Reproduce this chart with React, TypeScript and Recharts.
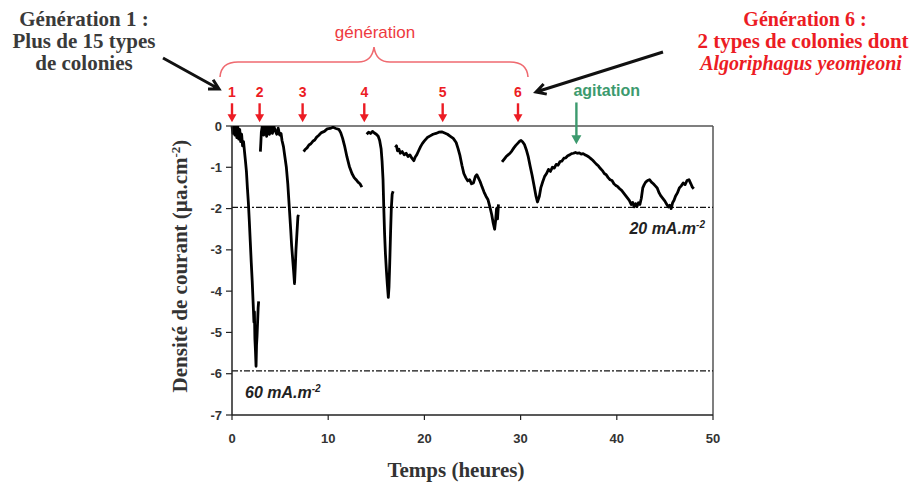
import React from 'react';
import { LineChart, Line, XAxis, YAxis, ReferenceLine } from 'recharts';

// ---- axis ticks ----
const xTicks = [0, 10, 20, 30, 40, 50];
const yTicks = [0, -1, -2, -3, -4, -5, -6, -7];

// ---- current density (µA/cm²) vs time (h), one array per generation ----
const gen1: [number, number][] = [
  [0, 0], [0.1, -0.18], [0.2, 0], [0.3, -0.22], [0.4, -0.02], [0.5, -0.28], [0.6, 0], [0.7, -0.32],
  [0.8, -0.08], [0.9, -0.38], [1.0, -0.2], [1.1, -0.48], [1.2, -0.38], [1.3, -0.62], [1.4, -0.85],
  [1.5, -1.1], [1.6, -1.5], [1.7, -1.85], [1.8, -2.3], [1.9, -2.8], [2.0, -3.3], [2.1, -3.75],
  [2.2, -4.3], [2.28, -4.75], [2.33, -4.5], [2.38, -5.15], [2.44, -5.45], [2.5, -5.82], [2.55, -5.3],
  [2.6, -5.1], [2.66, -4.75], [2.72, -4.4], [2.77, -4.25],
];
const gen2: [number, number][] = [
  [2.95, -0.62], [3.0, -0.4], [3.05, -0.15], [3.15, 0], [3.3, -0.22], [3.45, 0], [3.6, -0.25],
  [3.75, 0], [3.9, -0.2], [4.05, 0], [4.2, -0.18], [4.35, 0], [4.5, -0.12], [4.65, -0.2],
  [4.8, -0.05], [4.95, -0.22], [5.1, -0.18], [5.2, -0.35], [5.35, -0.5], [5.5, -0.75], [5.65, -1.0],
  [5.8, -1.4], [5.95, -1.95], [6.1, -2.5], [6.2, -2.9], [6.3, -3.2], [6.4, -3.5], [6.5, -3.82],
  [6.58, -3.4], [6.65, -3.0], [6.75, -2.6], [6.85, -2.2], [6.9, -2.15],
];
const gen3: [number, number][] = [
  [7.45, -0.62], [7.6, -0.57], [7.8, -0.53], [8.0, -0.46], [8.2, -0.43], [8.4, -0.37], [8.6, -0.34],
  [8.8, -0.27], [9.0, -0.23], [9.3, -0.16], [9.6, -0.13], [9.9, -0.07], [10.2, -0.06], [10.5, -0.03],
  [10.8, -0.06], [11.1, -0.08], [11.3, -0.16], [11.5, -0.3], [11.7, -0.48], [11.95, -0.75],
  [12.2, -0.98], [12.47, -1.15], [12.7, -1.25], [12.9, -1.3], [13.1, -1.36], [13.3, -1.4], [13.5, -1.48],
];
const gen4: [number, number][] = [
  [14.0, -0.2], [14.2, -0.15], [14.4, -0.18], [14.6, -0.13], [14.8, -0.17], [15.0, -0.2], [15.2, -0.25],
  [15.35, -0.35], [15.5, -0.55], [15.6, -0.85], [15.7, -1.3], [15.78, -2.0], [15.86, -2.6],
  [15.95, -3.1], [16.05, -3.5], [16.15, -3.85], [16.25, -4.15], [16.32, -3.9], [16.4, -3.3],
  [16.48, -2.6], [16.56, -2.0], [16.65, -1.65], [16.75, -1.58],
];
const gen5: [number, number][] = [
  [16.98, -0.52], [17.1, -0.48], [17.2, -0.6], [17.35, -0.56], [17.5, -0.66], [17.7, -0.62],
  [17.9, -0.7], [18.1, -0.66], [18.3, -0.74], [18.5, -0.7], [18.7, -0.78], [18.9, -0.84], [19.05, -0.75],
  [19.2, -0.7], [19.4, -0.6], [19.6, -0.5], [19.8, -0.42], [20.0, -0.36], [20.3, -0.28], [20.6, -0.24],
  [20.9, -0.2], [21.2, -0.18], [21.5, -0.15], [21.8, -0.14], [22.1, -0.17], [22.4, -0.2], [22.7, -0.25],
  [23.0, -0.3], [23.3, -0.4], [23.5, -0.55], [23.7, -0.72], [23.9, -0.95], [24.1, -1.15], [24.3, -1.25],
  [24.5, -1.33], [24.7, -1.3], [24.9, -1.4], [25.1, -1.38], [25.3, -1.22], [25.45, -1.18], [25.6, -1.25],
  [25.8, -1.35], [26.0, -1.48], [26.2, -1.6], [26.4, -1.7], [26.6, -1.78], [26.8, -1.95], [27.0, -2.15],
  [27.15, -2.35], [27.3, -2.5], [27.4, -2.3], [27.5, -2.0], [27.6, -2.25], [27.7, -1.9],
];
const gen6: [number, number][] = [
  [28.07, -0.87], [28.3, -0.8], [28.5, -0.74], [28.7, -0.7], [28.9, -0.66], [29.1, -0.6], [29.3, -0.53],
  [29.5, -0.47], [29.7, -0.42], [29.9, -0.37], [30.05, -0.35], [30.2, -0.38], [30.4, -0.45], [30.6, -0.58],
  [30.8, -0.75], [31.0, -0.98], [31.2, -1.2], [31.4, -1.45], [31.6, -1.7], [31.75, -1.84], [31.95, -1.7],
  [32.1, -1.5], [32.3, -1.35], [32.5, -1.22], [32.7, -1.15], [32.9, -1.05], [33.1, -1.1], [33.3, -1.0],
  [33.5, -1.02], [33.7, -0.93], [33.9, -0.95], [34.1, -0.86], [34.3, -0.85], [34.5, -0.78], [34.7, -0.77],
  [34.9, -0.72], [35.1, -0.7], [35.3, -0.67], [35.5, -0.66], [35.7, -0.64], [35.9, -0.66], [36.1, -0.65],
  [36.3, -0.68], [36.5, -0.67], [36.7, -0.7], [36.9, -0.72], [37.1, -0.75], [37.3, -0.79], [37.5, -0.83],
  [37.7, -0.88], [37.9, -0.93], [38.1, -0.97], [38.3, -1.03], [38.5, -1.08], [38.7, -1.15], [38.9, -1.18],
  [39.1, -1.25], [39.3, -1.3], [39.5, -1.32], [39.7, -1.4], [39.9, -1.44], [40.1, -1.47], [40.3, -1.52],
  [40.5, -1.56], [40.7, -1.62], [40.9, -1.68], [41.1, -1.74], [41.3, -1.8], [41.5, -1.9], [41.65, -1.85],
  [41.8, -1.96], [41.95, -1.88], [42.1, -1.95], [42.25, -1.86], [42.4, -1.9], [42.55, -1.75], [42.7, -1.5],
  [42.85, -1.42], [43.0, -1.36], [43.2, -1.32], [43.4, -1.3], [43.6, -1.36], [43.8, -1.4], [44.0, -1.45],
  [44.2, -1.5], [44.4, -1.62], [44.6, -1.7], [44.8, -1.76], [45.0, -1.82], [45.2, -1.9], [45.35, -1.96],
  [45.5, -1.92], [45.65, -2.0], [45.8, -1.86], [45.95, -1.8], [46.1, -1.7], [46.3, -1.62], [46.5, -1.5],
  [46.7, -1.45], [46.9, -1.38], [47.1, -1.42], [47.3, -1.32], [47.5, -1.3], [47.7, -1.4], [47.85, -1.48],
  [48.0, -1.52],
];
const generations = [gen1, gen2, gen3, gen4, gen5, gen6];

// ---- annotations (data units) ----
const generationStarts = [0, 2.87, 7.34, 13.75, 21.9, 29.73];
const generationLabels = ['1', '2', '3', '4', '5', '6'];
const agitationTime = 35.8;
const thresholdValues = [-1.97, -5.93];
const thresholdLabels = ['20 mA.m', '60 mA.m'];

const toPts = (arr: [number, number][]) => arr.map(([t, v]) => ({ t, v }));

const RED = '#ec1c24';
const GREEN = '#3c9a6e';
const SERIF = "'Liberation Serif', 'Times New Roman', serif";
const SANS = "'Liberation Sans', Arial, sans-serif";

const makeArrow = (color: string, label: string, kind: 'gen' | 'agit') => (p: any) => {
  const { x1, y1, x2, y2 } = p;
  const head = kind === 'gen' ? 8 : 9;
  const hw = kind === 'gen' ? 4.5 : 5;
  return (
    <g>
      <line x1={x1} y1={y1} x2={x2} y2={y2 - head + 1} stroke={color} strokeWidth={2.4} />
      <polygon points={`${x2 - hw},${y2 - head} ${x2 + hw},${y2 - head} ${x2},${y2}`} fill={color} />
      {kind === 'gen' ? (
        <text x={x1} y={y1 - 6} textAnchor="middle" fill={color} fontFamily={SANS} fontWeight={700} fontSize={14}>
          {label}
        </text>
      ) : (
        <text x={x1 - 3} y={y1 - 6} textAnchor="start" fill={color} fontFamily={SANS} fontWeight={700} fontSize={16}>
          {label}
        </text>
      )}
    </g>
  );
};

const thresholdLabel = (text: string, side: 'right' | 'left') => (props: any) => {
  const vb = props.viewBox || {};
  const x = side === 'right' ? vb.x + vb.width - 8 : vb.x + 13;
  const y = vb.y + 27;
  return (
    <text x={x} y={y} textAnchor={side === 'right' ? 'end' : 'start'} fill="#222" fontFamily={SANS}
      fontWeight={700} fontStyle="italic" fontSize={16}>
      {text}
      <tspan dy={-6} fontSize={10}>-2</tspan>
    </text>
  );
};

function arrowPath(x0: number, y0: number, x1: number, y1: number, len = 11, ang = 0.5) {
  const a = Math.atan2(y1 - y0, x1 - x0);
  const ax = x1 - len * Math.cos(a - ang);
  const ay = y1 - len * Math.sin(a - ang);
  const bx = x1 - len * Math.cos(a + ang);
  const by = y1 - len * Math.sin(a + ang);
  return `M${x0},${y0} L${x1},${y1} M${ax},${ay} L${x1},${y1} L${bx},${by}`;
}

export default function App() {
  return (
    <div style={{ position: 'absolute', left: 0, top: 0, width: 915, height: 483, background: '#fff' }}>
      <LineChart width={915} height={483} margin={{ top: 126, right: 202, left: 182, bottom: 38 }}>
        <XAxis
          type="number"
          dataKey="t"
          domain={[0, 50]}
          ticks={xTicks}
          height={30}
          tickSize={5}
          tickMargin={14}
          axisLine={{ stroke: '#222', strokeWidth: 1.5 }}
          tickLine={{ stroke: '#222', strokeWidth: 1.2 }}
          tick={{ fill: '#333', fontSize: 13, fontWeight: 700, fontFamily: SANS }}
        />
        <YAxis
          type="number"
          domain={[-7, 0]}
          ticks={yTicks}
          width={50}
          tickSize={6}
          tickMargin={4}
          allowDataOverflow
          axisLine={{ stroke: '#222', strokeWidth: 1.5 }}
          tickLine={{ stroke: '#222', strokeWidth: 1.2 }}
          tick={{ fill: '#333', fontSize: 13, fontWeight: 700, fontFamily: SANS }}
        />
        <ReferenceLine y={0} stroke="#555" strokeWidth={1.5} />
        <ReferenceLine x={50} stroke="#555" strokeWidth={1.5} />
        {thresholdValues.map((v, i) => (
          <ReferenceLine
            key={'th' + i}
            y={v}
            stroke="#111"
            strokeWidth={1.2}
            strokeDasharray="6 2 2 2"
            label={thresholdLabel(thresholdLabels[i], i === 0 ? 'right' : 'left')}
          />
        ))}
        {generations.map((g, i) => (
          <Line
            key={'g' + i}
            data={toPts(g)}
            dataKey="v"
            type="linear"
            stroke="#000"
            strokeWidth={2.8}
            strokeLinejoin="round"
            dot={false}
            activeDot={false}
            isAnimationActive={false}
          />
        ))}
        {generationStarts.map((t, i) => (
          <ReferenceLine
            key={'ga' + i}
            segment={[{ x: t, y: 0.55 }, { x: t, y: 0.09 }]}
            ifOverflow="visible"
            shape={makeArrow(RED, generationLabels[i], 'gen')}
          />
        ))}
        <ReferenceLine
          segment={[{ x: agitationTime, y: 0.57 }, { x: agitationTime, y: -0.44 }]}
          ifOverflow="visible"
          shape={makeArrow(GREEN, 'agitation', 'agit')}
        />
      </LineChart>
      <svg width={915} height={483} style={{ position: 'absolute', left: 0, top: 0, pointerEvents: 'none' }}>
        {/* left title */}
        <g fontFamily={SERIF} fontWeight={700} fontSize={21} fill="#3a3a3a" textAnchor="middle">
          <text x={84} y={26}>Génération 1 :</text>
          <text x={84} y={48}>Plus de 15 types</text>
          <text x={84} y={70}>de colonies</text>
        </g>
        {/* right title */}
        <g fontFamily={SERIF} fontWeight={700} fill={RED} textAnchor="middle">
          <text x={805} y={26} fontSize={20}>Génération 6 :</text>
          <text x={803} y={48} fontSize={21}>2 types de colonies dont</text>
          <text x={801} y={70} fontSize={20} fontStyle="italic">Algoriphagus yeomjeoni</text>
        </g>
        {/* black arrows */}
        <path d={arrowPath(163, 58, 219, 89)} stroke="#111" strokeWidth={3} fill="none" />
        <path d={arrowPath(663, 52, 536, 92)} stroke="#111" strokeWidth={3} fill="none" />
        {/* brace */}
        <path
          d="M220,77 Q221,62 238,62 L358,62 Q372,62 374,47 Q376,62 390,62 L510,62 Q527,62 528,77"
          stroke="#ef6a70"
          strokeWidth={1.6}
          fill="none"
        />
        <text x={375} y={38} textAnchor="middle" fontFamily={SANS} fontSize={17} fill="#ee3a40">
          génération
        </text>
        {/* axis titles */}
        <text
          x={187}
          y={266}
          transform="rotate(-90 187 266)"
          textAnchor="middle"
          fontFamily={SERIF}
          fontWeight={700}
          fontSize={21}
          fill="#333"
        >
          Densité de courant (µa.cm<tspan dy={-7} fontSize={13}>-2</tspan><tspan dy={7}>)</tspan>
        </text>
        <text x={456} y={477} textAnchor="middle" fontFamily={SERIF} fontWeight={700} fontSize={21} fill="#333">
          Temps (heures)
        </text>
      </svg>
    </div>
  );
}
